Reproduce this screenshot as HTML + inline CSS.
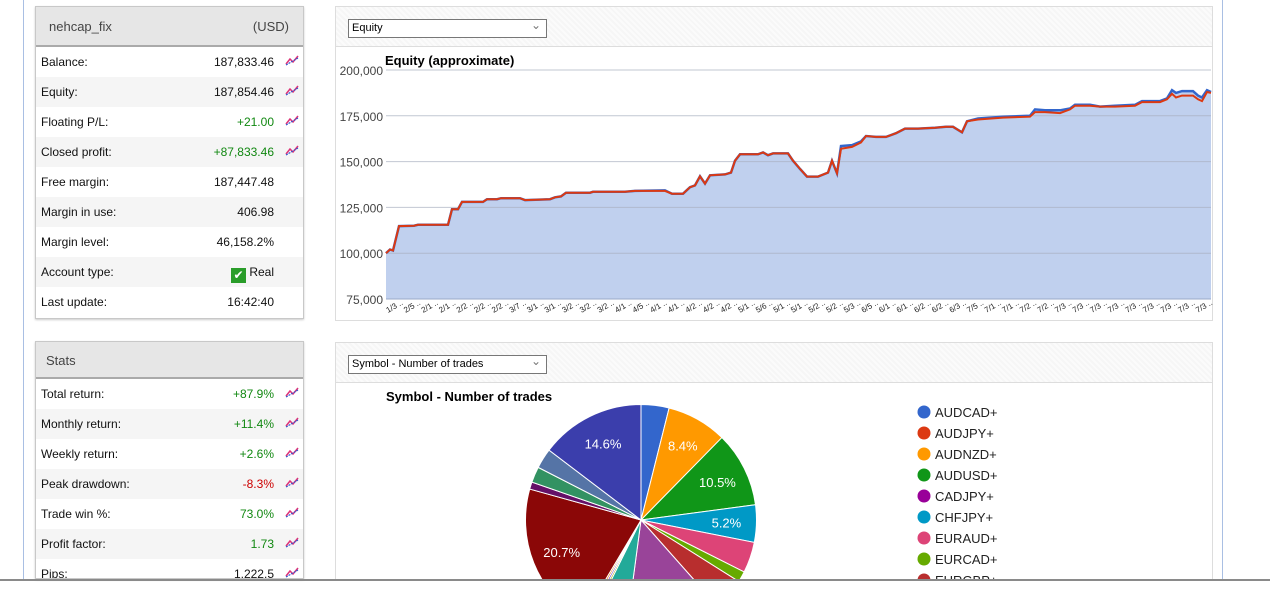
<!DOCTYPE html>
<html><head><meta charset="utf-8">
<style>
body{margin:0;width:1270px;height:596px;overflow:hidden;background:#fff;font-family:"Liberation Sans",Arial,sans-serif;position:relative}
.vl{position:absolute;top:0;width:1px;height:579px;background:#a9bfe3}
.panel{position:absolute;border:1px solid #c8c8c8;box-shadow:0 1px 2px #ccc;background:#fff;overflow:hidden}
.ph{background:#e6e6e6;border-bottom:2px solid #aaa;font-size:13px;color:#444;position:relative}
.row{height:30px;position:relative;font-size:12px;color:#111}
.row:nth-child(even){background:#f5f5f5}
.row .l{position:absolute;left:5px;top:8px}
.row .v{position:absolute;right:29px;top:8px}
.row svg{position:absolute;right:4px;top:7px}
.g{color:#118811}.r{color:#cc0000}
.cp{position:absolute;border:1px solid #ddd;background:#fff;overflow:hidden}
.chd{height:39px;border-bottom:1px solid #ddd;background:repeating-linear-gradient(45deg,#f6f6f6 0 2px,#fbfbfb 2px 4px)}
.sel{position:absolute;left:12px;top:12px;border:1px solid #777;background:#fff;font-size:11px;line-height:16px;padding-left:3px;box-sizing:border-box;width:199px;height:19px}
.sel:after{content:"⌄";position:absolute;right:5px;top:-3px;color:#777;font-size:12px}
</style></head><body>
<div class="vl" style="left:23px"></div>
<div class="vl" style="left:1222px"></div>

<div class="panel" style="left:35px;top:6px;width:267px;height:311px">
 <div class="ph" style="height:38px"><span style="position:absolute;left:13px;top:12px">nehcap_fix</span><span style="position:absolute;right:14px;top:12px">(USD)</span></div>
 <div id="acct"></div>
</div>
<div class="panel" style="left:35px;top:341px;width:267px;height:236px">
 <div class="ph" style="height:35px"><span style="position:absolute;left:10px;top:11px">Stats</span></div>
 <div id="stats"></div>
</div>

<div class="cp" style="left:335px;top:6px;width:876px;height:313px">
 <div class="chd"><div class="sel">Equity</div></div>
</div>
<svg id="eq" style="position:absolute;left:0;top:0" width="1270" height="330"></svg>

<div class="cp" style="left:335px;top:342px;width:876px;height:236px">
 <div class="chd"><div class="sel">Symbol - Number of trades</div></div>
</div>
<svg id="pie" style="position:absolute;left:0;top:382px" width="1220" height="197"></svg>

<div style="position:absolute;left:0;top:579px;width:1270px;height:2px;background:#8a8a8a"></div>

<script>
const icon='<svg width="14" height="12" viewBox="0 0 14 12"><path d="M1 10 L5 5 L8 8 L13 2" stroke="#dd3377" stroke-width="1.5" fill="none"/><path d="M1 11 L13 4" stroke="#3355cc" stroke-width="1.2" fill="none" stroke-dasharray="2 1"/></svg>';
function rows(id,items){
 const c=document.getElementById(id);
 items.forEach(it=>{
  const d=document.createElement('div');d.className='row';
  
  
  d.innerHTML='<span class="l">'+it[0]+'</span><span class="v '+(it[2]||'')+'">'+it[1]+'</span>'+(it[3]?icon:'');
  c.appendChild(d);
 });
}
rows('acct',[["Balance:","187,833.46","",1],["Equity:","187,854.46","",1],["Floating P/L:","+21.00","g",1],["Closed profit:","+87,833.46","g",1],["Free margin:","187,447.48","",0],["Margin in use:","406.98","",0],["Margin level:","46,158.2%","",0],["Account type:",'<span style="display:inline-block;width:15px;height:15px;background:#2a9d2a;color:#fff;font-size:12px;line-height:15px;text-align:center;vertical-align:-3px">✔</span> Real',"",0],["Last update:","16:42:40","",0]]);
rows('stats',[["Total return:","+87.9%","g",1],["Monthly return:","+11.4%","g",1],["Weekly return:","+2.6%","g",1],["Peak drawdown:","-8.3%","r",1],["Trade win %:","73.0%","g",1],["Profit factor:","1.73","g",1],["Pips:","1,222.5","",1]]);
document.querySelectorAll('.row svg').forEach(s=>{});
</script>

<script>
// Equity chart data (days since start)
const days=[0,4,7,13,28,32,62,66,72,76,97,101,111,115,134,139,164,169,175,180,204,207,239,249,279,286,297,304,309,314,319,324,339,345,349,354,372,377,382,387,402,407,414,421,432,442,446,451,455,466,475,480,490,500,510,519,532,549,560,567,576,581,592,617,644,649,659,674,684,689,704,714,729,749,756,774,781,786,790,796,807,812,816,821,825];
const balance=[100000,102000,101500,114800,115000,115500,115500,124000,124000,128000,128000,129500,129500,130000,130000,129000,129500,130500,131000,133000,133000,133500,133500,134000,134000,132500,132500,136000,137000,142000,138000,142500,143000,144000,150500,154000,154000,155000,153500,154500,154500,150500,146000,141800,141800,144000,150500,143600,157000,158000,160500,164000,163500,163500,165500,168000,168000,168500,169000,169000,166000,172000,173000,174000,174500,177000,177000,176500,178500,180500,180500,180000,180000,180500,182500,182500,184000,187000,185000,186000,186000,184000,183000,188000,187500];
const equity=[100000,102000,101500,114800,115000,115500,115500,124000,124000,128000,128000,129500,129500,130000,130000,129000,129500,130500,131000,133000,133000,133500,133500,134000,134300,132500,132500,136000,137000,142000,138000,142500,143000,144000,150500,154000,154000,155000,153500,154500,154500,150500,146000,141800,141800,144000,150500,143600,158500,159000,161000,164000,163500,163500,165500,168000,168000,168500,169000,169000,166000,172000,173500,174500,175000,178500,178000,178000,179000,181000,181000,180000,180500,181000,183000,183000,184500,189000,187500,188500,188500,186000,185000,189000,188000];
const yTicks=[75000,100000,125000,150000,175000,200000];
const xLabels=["1/3","2/5","2/1","2/1","2/2","2/2","2/2","3/7","3/1","3/1","3/2","3/2","3/2","4/1","4/5","4/1","4/1","4/2","4/2","4/2","5/1","5/6","5/1","5/1","5/2","5/2","5/3","6/5","6/1","6/1","6/2","6/2","6/3","7/5","7/1","7/1","7/2","7/2","7/3","7/3","7/3","7/3","7/3","7/3","7/3","7/3","7/3"];
(function(){
 const svg=document.getElementById('eq'),NS='http://www.w3.org/2000/svg';
 const X0=386,X1=1211,Y0=299,Y1=70;
 const xs=d=>X0+(d-days[0])/(days[days.length-1]-days[0])*(X1-X0);
 const ys=v=>Y0-(v-75000)/(200000-75000)*(Y0-Y1);
 function el(t,a){const e=document.createElementNS(NS,t);for(const k in a)e.setAttribute(k,a[k]);svg.appendChild(e);return e;}
 const n=Math.min(days.length,balance.length,equity.length);
 let pb='',pe='';
 for(let i=0;i<n;i++){pb+=(i?'L':'M')+xs(days[i]).toFixed(1)+' '+ys(balance[i]).toFixed(1);pe+=(i?'L':'M')+xs(days[i]).toFixed(1)+' '+ys(equity[i]).toFixed(1);}
 let a=el('path',{d:pe+'L'+xs(days[n-1])+' '+Y0+'L'+X0+' '+Y0+'Z',fill:'#c0d0ee'});
 
 yTicks.forEach(t=>{
  const l=el('line',{x1:X0,x2:X1,y1:ys(t),y2:ys(t),stroke:t===75000?'#9aaac8':'#a8b0c0','stroke-width':1,opacity:t===75000?1:0.7});
  
  const tx=el('text',{x:383,y:ys(t)+5,'text-anchor':'end','font-size':12,fill:'#444','font-family':'Liberation Sans, sans-serif'});
  tx.textContent=t.toLocaleString('en-US');
  
 });
 let l1=el('path',{d:pe,fill:'none',stroke:'#3366cc','stroke-width':2.5});
 
 let l2=el('path',{d:pb,fill:'none',stroke:'#dc3912','stroke-width':2});
 
 const t=el('text',{x:385,y:65,'font-size':13,'font-weight':'bold',fill:'#000','font-family':'Liberation Sans, sans-serif'});
 t.textContent='Equity (approximate)';
 xLabels.forEach((s,i)=>{
  const x=388+i*17.6;
  if(x>1212)return;
  const tx=el('text',{x:x,y:313,'font-size':8,fill:'#222',transform:'rotate(-30 '+x+' 313)','font-family':'Liberation Sans, sans-serif'});
  tx.textContent=s+' ..';
 });
})();
</script>

<script>
// Pie chart data
const symbols=["AUDCAD+","AUDJPY+","AUDNZD+","AUDUSD+","CADJPY+","CHFJPY+","EURAUD+","EURCAD+","EURGBP+","EURJPY+","EURNZD+","EURUSD+","GBPAUD+","GBPCAD+","GBPCHF+","GBPJPY+","GBPNZD+","GBPUSD+","NZDJPY+","USDCAD+"];
const trades=[3.9,0,8.4,10.5,0,5.2,4.3,1.5,4.5,0,13.6,5.2,0.4,0.4,0.4,20.7,1.0,2.2,2.8,14.6];
const colors=["#3366cc","#dc3912","#ff9900","#109618","#990099","#0099c6","#dd4477","#66aa00","#b82e2e","#316395","#994499","#22aa99","#aaaa11","#6633cc","#e67300","#8b0707","#651067","#329262","#5574a6","#3b3eac"];
(function(){
 const svg=document.getElementById('pie'),NS='http://www.w3.org/2000/svg';
 function el(t,a){const e=document.createElementNS(NS,t);for(const k in a)e.setAttribute(k,a[k]);svg.appendChild(e);return e;}
 const cx=641,cy=520-382,r=115.5;
 const tot=trades.reduce((a,b)=>a+b,0);
 let ang=0;
 const pt=(a,rr)=>[cx+rr*Math.sin(a),cy-rr*Math.cos(a)];
 trades.forEach((v,i)=>{
  if(v<=0)return;
  const a0=ang,a1=ang+v/tot*2*Math.PI;ang=a1;
  const p0=pt(a0,r),p1=pt(a1,r);
  const p=el('path',{d:`M${cx} ${cy}L${p0[0]} ${p0[1]}A${r} ${r} 0 ${a1-a0>Math.PI?1:0} 1 ${p1[0]} ${p1[1]}Z`,fill:colors[i],stroke:'#fff','stroke-width':1});
  
  
  if(v>=5){
   const m=pt((a0+a1)/2,r*0.74);
   const t=el('text',{x:m[0],y:m[1]+5,'text-anchor':'middle','font-size':13,fill:'#fff','font-family':'Liberation Sans, sans-serif'});
   t.textContent=v.toFixed(1)+'%';
   
  }
 });
 const t=el('text',{x:386,y:19,'font-size':13,'font-weight':'bold',fill:'#000','font-family':'Liberation Sans, sans-serif'});
 t.textContent='Symbol - Number of trades';
 symbols.forEach((s,i)=>{
  const y=412-382+i*21;
  if(y>205)return;
  const c=el('circle',{cx:924,cy:y,r:6.5,fill:colors[i]});
  
  const tx=el('text',{x:935,y:y+5,'font-size':13,fill:'#222','font-family':'Liberation Sans, sans-serif'});
  tx.textContent=s;
 });
})();
</script>
</body></html>
